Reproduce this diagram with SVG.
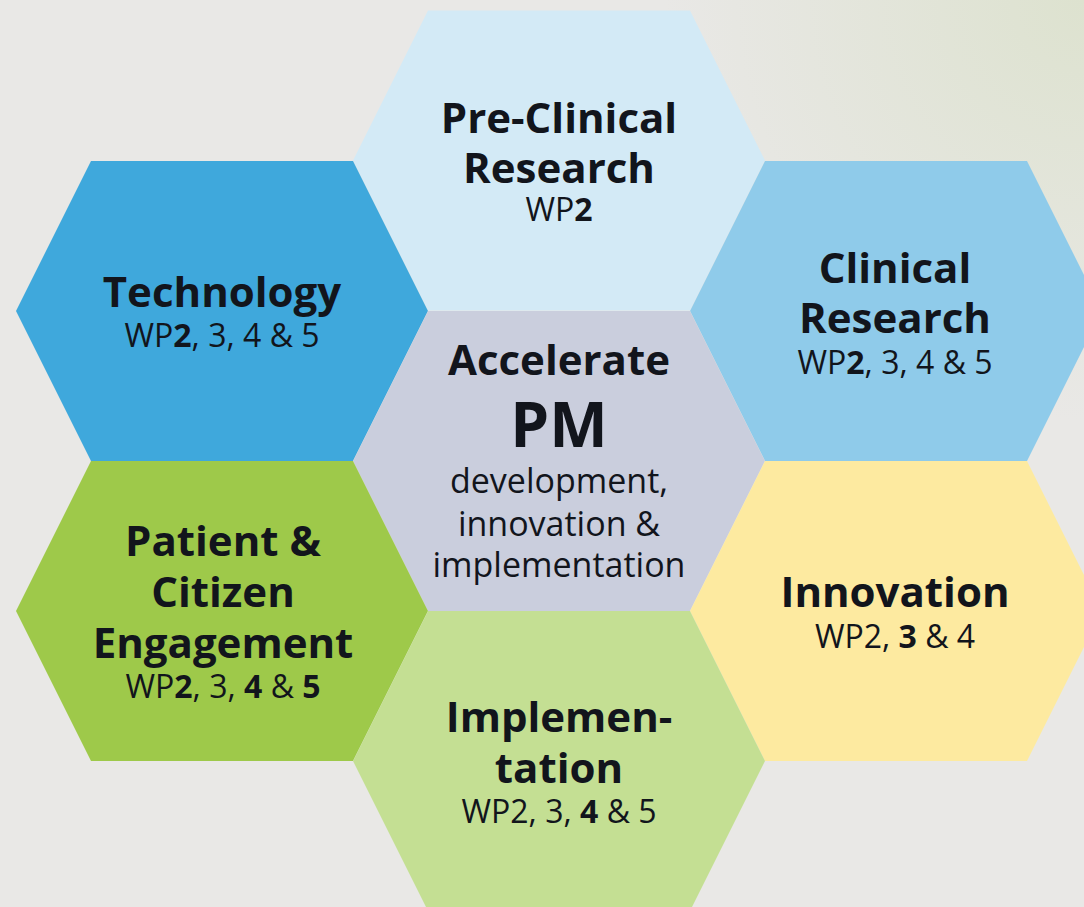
<svg xmlns="http://www.w3.org/2000/svg" width="1084" height="907" viewBox="0 0 1084 907">
<defs>
<radialGradient id="bg" cx="1084" cy="0" r="420" gradientUnits="userSpaceOnUse">
<stop offset="0" stop-color="#dde2cf"/>
<stop offset="1" stop-color="#e9e8e6"/>
</radialGradient>
<polygon id="hex" points="-131,-150 131,-150 206,0 131,150 -131,150 -206,0"/>
</defs>
<style>
text{font-family:"Open Sans","Noto Sans","DejaVu Sans",sans-serif;fill:#12151c;text-anchor:middle}
.t{font-size:42px;font-weight:700}
.w{font-size:32px;font-weight:400}
.b{font-weight:700}
.s{font-size:34px;font-weight:400}
</style>
<rect width="1084" height="907" fill="#e9e8e6"/>
<rect width="1084" height="907" fill="url(#bg)"/>
<g id="connectors"></g>
<g id="preclinical">
<use href="#hex" x="559" y="160.5" fill="#d3eaf6"/>
<text class="t" x="559" y="133">Pre-Clinical</text>
<text class="t" x="559" y="183">Research</text>
<text class="w" x="559" y="221">WP<tspan class="b">2</tspan></text>
</g>
<g id="technology">
<use href="#hex" x="222" y="311" fill="#3fa8dc"/>
<text class="t" x="222" y="307">Technology</text>
<text class="w" x="222" y="347">WP<tspan class="b">2</tspan>, 3, 4 &amp; 5</text>
</g>
<g id="clinical">
<use href="#hex" x="896" y="311" fill="#8fcbea"/>
<text class="t" x="895" y="283">Clinical</text>
<text class="t" x="895" y="333">Research</text>
<text class="w" x="895" y="374">WP<tspan class="b">2</tspan>, 3, 4 &amp; 5</text>
</g>
<g id="center">
<use href="#hex" x="559" y="461" fill="#cacedd"/>
<text class="t" x="559" y="375">Accelerate</text>
<text x="559" y="447" style="font-size:62px;font-weight:700">PM</text>
<text class="s" x="559" y="493">development,</text>
<text class="s" x="559" y="536">innovation &amp;</text>
<text class="s" x="559" y="577">implementation</text>
</g>
<g id="patient">
<use href="#hex" x="222" y="611" fill="#9ec94a"/>
<text class="t" x="223" y="556">Patient &amp;</text>
<text class="t" x="223" y="607">Citizen</text>
<text class="t" x="223" y="658">Engagement</text>
<text class="w" x="223" y="698">WP<tspan class="b">2</tspan>, 3, <tspan class="b">4</tspan> &amp; <tspan class="b">5</tspan></text>
</g>
<g id="innovation">
<use href="#hex" x="896" y="611" fill="#fdeaa0"/>
<text class="t" x="895" y="607">Innovation</text>
<text class="w" x="895" y="648">WP2, <tspan class="b">3</tspan> &amp; 4</text>
</g>
<g id="implementation">
<use href="#hex" x="559" y="761" fill="#c4df93"/>
<text class="t" x="559" y="732">Implemen-</text>
<text class="t" x="559" y="783">tation</text>
<text class="w" x="559" y="823">WP2, 3, <tspan class="b">4</tspan> &amp; 5</text>
</g>
</svg>
